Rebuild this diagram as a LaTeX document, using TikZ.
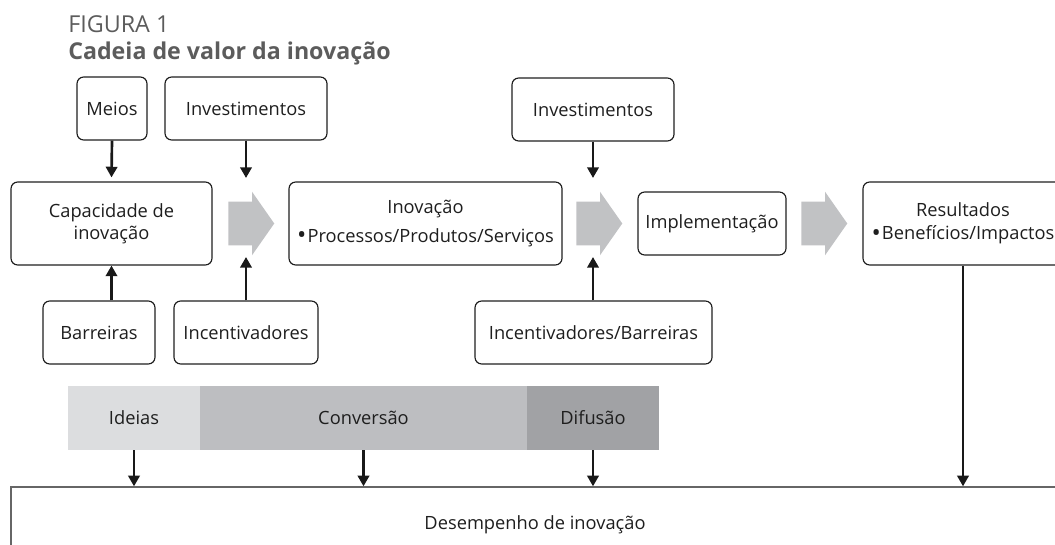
\documentclass[tikz,border=0pt]{standalone}
\usepackage{fontspec}
\setmainfont{Open Sans}
\usetikzlibrary{arrows.meta,shapes.arrows}
\definecolor{titcinza}{HTML}{5C5C5C}
\definecolor{linha}{HTML}{1E1E1E}
\definecolor{setacinza}{HTML}{C1C2C4}
\definecolor{faixa1}{HTML}{DCDDDF}
\definecolor{faixa2}{HTML}{BDBEC1}
\definecolor{faixa3}{HTML}{A1A2A5}
\newcommand{\marca}{\raisebox{-1.2pt}{\scalebox{1.35}{\textbullet}}\kern0.8pt}

\begin{document}
\begin{tikzpicture}[x=0.75pt,y=-0.75pt,
  font=\fontsize{13.7}{16.5}\selectfont, text=linha,
  caixa/.style={draw=linha, line width=0.85pt, rounded corners=5pt, minimum height=47.25pt, inner sep=2pt, align=center},
  bloco/.style={single arrow, fill=setacinza, inner xsep=0pt, inner ysep=16.125pt, minimum height=34.5pt, single arrow head extend=7.5pt, single arrow tip angle=110, anchor=tail},
  faixa/.style={minimum height=48pt, inner sep=0pt},
  flecha/.style={-{Triangle[width=8.5pt,length=8pt]}, line width=2pt, draw=black!90}]
\useasboundingbox (0,0) rectangle (1055,545);

% titulo
\node (fig) [anchor=base west, inner sep=0pt, text=titcinza, font=\fontsize{17.5}{20}\selectfont] at (68,33) {FIGURA 1};
\node (tit) [anchor=base west, inner sep=0pt, text=titcinza, font=\fontsize{17.4}{20}\selectfont\bfseries] at (68,60) {Cadeia de valor da inovação};

% caixas
\node (meios) [caixa, minimum width=52.5pt] at (112,108.5) {Meios};
\node (inv1) [caixa, minimum width=121.5pt] at (246,108.5) {Investimentos};
\node (cap) [caixa, minimum width=150.75pt, minimum height=62.25pt] at (111.5,223.5) {Capacidade de\\inovação};
\node (barr) [caixa, minimum width=84pt] at (99,332.5) {Barreiras};
\node (incent) [caixa, minimum width=108pt] at (246,332.5) {Incentivadores};
\node (inov) [caixa, minimum width=204.75pt, minimum height=62.25pt] at (425.5,223.5) {Inovação\\[5pt]\marca Processos/Produtos/Serviços};
\node (inv2) [caixa, minimum width=121.5pt] at (593,109.5) {Investimentos};
\node (impl) [caixa, minimum width=111pt] at (712,223.5) {Implementação};
\node (incbar) [caixa, minimum width=177.75pt] at (593.5,332.5) {Incentivadores/Barreiras};
\node (res) [caixa, minimum width=150pt, minimum height=62.25pt] at (963,223.5) {Resultados\\[1pt]\marca Benefícios/Impactos};

% setas largas
\node (seta1) [bloco] at (228,223.5) {};
\node (seta2) [bloco] at (576,223.5) {};
\node (seta3) [bloco] at (801,223.5) {};
\coordinate (topo1) at (246,178);
\coordinate (base1) at (246,257);
\coordinate (topo2) at (593,178);
\coordinate (base2) at (593,257);

% faixas
\node (ideias) [faixa, fill=faixa1, minimum width=99pt] at (134,418) {Ideias};
\node (conv) [faixa, fill=faixa2, minimum width=245.25pt] at (363.5,418) {Conversão};
\node (dif) [faixa, fill=faixa3, minimum width=99pt] at (593,418) {Difusão};

\node (desemp) [draw=black!60, line width=1pt, minimum width=786pt, minimum height=57pt] at (535,525) {Desempenho de inovação};

\draw[flecha] (meios.south) -- ([yshift=3pt]cap.north);
\draw[flecha] (inv1.south) -- (topo1);
\draw[flecha] (barr.north -| cap.south) -- (cap.south);
\draw[flecha] (incent.north) -- (base1);
\draw[flecha] (inv2.south) -- (topo2);
\draw[flecha] (incbar.north -| inv2.south) -- (base2);
\draw[flecha] (ideias.south) -- (ideias.south |- desemp.north);
\draw[flecha] (conv.south) -- (conv.south |- desemp.north);
\draw[flecha] (dif.south) -- (dif.south |- desemp.north);
\draw[flecha] (res.south) -- (res.south |- desemp.north);

\end{tikzpicture}
\end{document}
